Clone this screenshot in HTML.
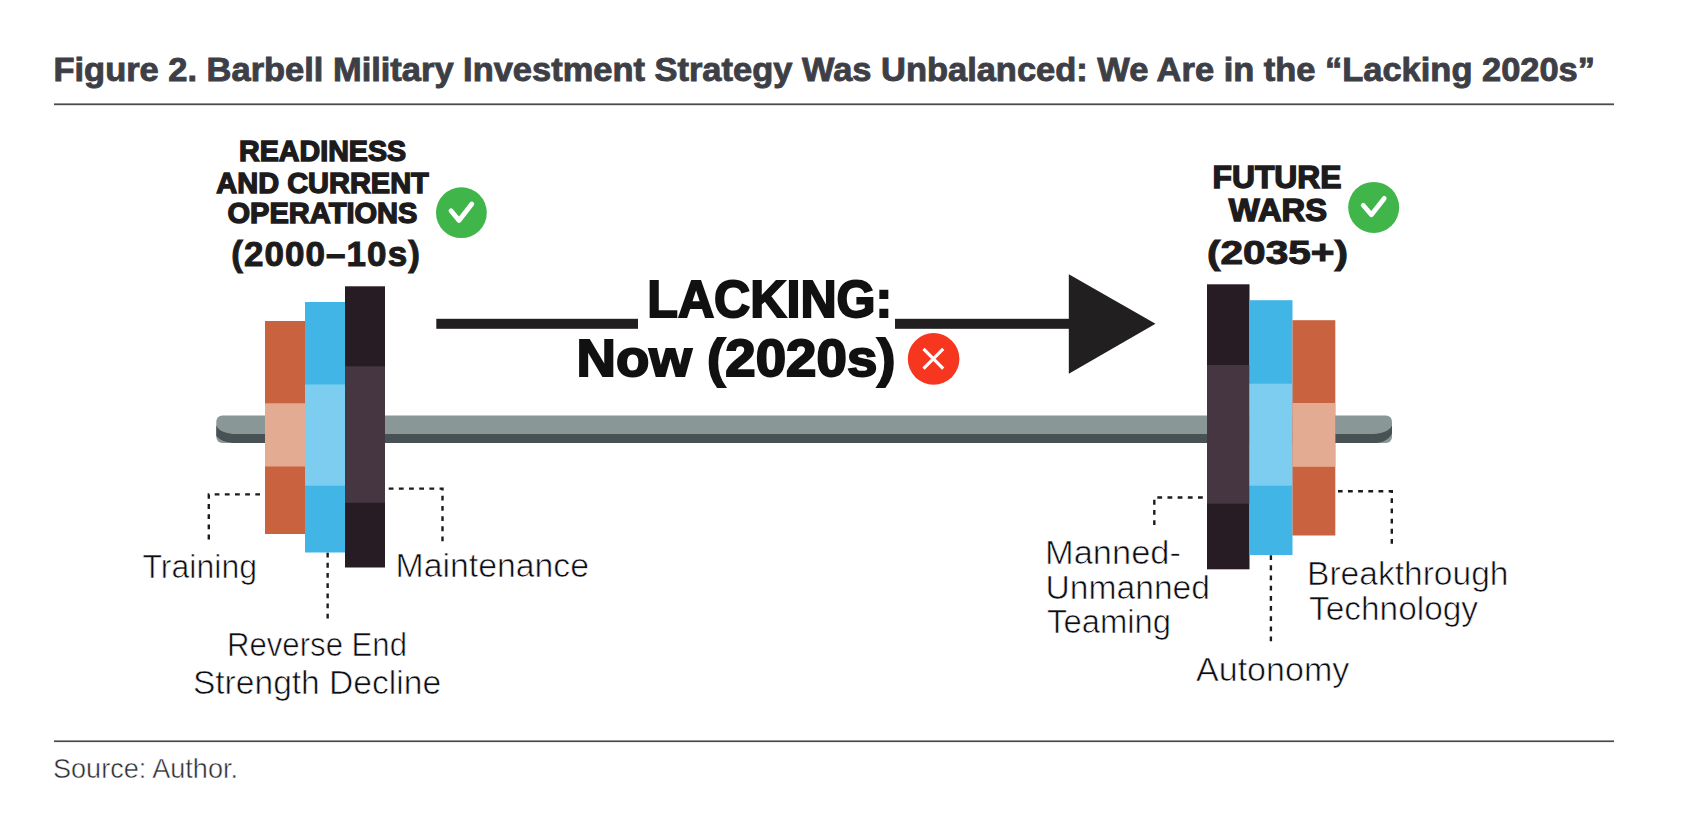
<!DOCTYPE html>
<html lang="en">
<head>
<meta charset="utf-8">
<title>Figure 2. Barbell Military Investment Strategy Was Unbalanced</title>
<style>
  html, body { margin: 0; padding: 0; background: #ffffff; }
  body { width: 1688px; height: 826px; overflow: hidden; }
  svg { display: block; }
  text { font-family: "Liberation Sans", sans-serif; }
  .title { font-weight: bold; font-size: 33px; fill: #3e3f46; stroke: #3e3f46; stroke-width: 0.9px; }
  .head  { font-weight: bold; font-size: 29px; fill: #1d1b1c; stroke: #1d1b1c; stroke-width: 1.4px; }
  .yr    { font-weight: bold; font-size: 35px; fill: #1d1b1c; stroke: #1d1b1c; stroke-width: 1px; }
  .big   { font-weight: bold; font-size: 52px; fill: #111111; stroke: #111111; stroke-width: 2px; }
  .lab   { font-size: 33px; fill: #0c0c12; stroke: #ffffff; stroke-width: 0.65px; }
  .src   { font-size: 28px; fill: #2c2d32; stroke: #ffffff; stroke-width: 0.5px; }
  .dash  { fill: none; stroke: #1d1b1c; stroke-width: 2.4; stroke-dasharray: 4.8 5.37; }
</style>
</head>
<body>
<svg width="1688" height="826" viewBox="0 0 1688 826">
  <rect x="0" y="0" width="1688" height="826" fill="#ffffff"/>

  <!-- title -->
  <text class="title" x="53.5" y="81.4" textLength="1541.5" lengthAdjust="spacingAndGlyphs">Figure 2. Barbell Military Investment Strategy Was Unbalanced: We Are in the “Lacking 2020s”</text>
  <rect x="54" y="103.4" width="1560" height="1.8" fill="#4a4b4f"/>

  <!-- bar -->
  <g id="bar">
    <rect x="216.3" y="415.4" width="1175.7" height="27.7" rx="6" ry="6" fill="#899797"/>
    <path d="M216.3 425.2 C218 431 226 434 238 434 L1370 434 C1382 434 1390 431 1392 425.2 L1392 433.5 C1389 439.5 1383 443.1 1373 443.1 L236 443.1 C227 443.1 220 440.5 216.3 436 Z" fill="#485254"/>
  </g>

  <!-- left plates -->
  <g id="left-plates">
    <rect x="265" y="321" width="40" height="213" fill="#c9623f"/>
    <rect x="265" y="403.3" width="40" height="63.2" fill="#e4ab93"/>
    <rect x="305" y="302" width="40" height="250.5" fill="#41b6e6"/>
    <rect x="305" y="384.5" width="40" height="101.2" fill="#7dcdf0"/>
    <rect x="345" y="286.3" width="40" height="281.2" fill="#271b24"/>
    <rect x="345" y="366.3" width="40" height="136.5" fill="#453641"/>
  </g>

  <!-- right plates -->
  <g id="right-plates">
    <rect x="1207" y="284.3" width="42.5" height="285" fill="#271b24"/>
    <rect x="1207" y="365" width="42.5" height="138.7" fill="#453641"/>
    <rect x="1249.5" y="300.2" width="43" height="254.8" fill="#41b6e6"/>
    <rect x="1249.5" y="383.7" width="43" height="102" fill="#7dcdf0"/>
    <rect x="1292.5" y="320.2" width="42.8" height="215.3" fill="#c9623f"/>
    <rect x="1292.5" y="403" width="42.8" height="63.8" fill="#e4ab93"/>
  </g>

  <!-- arrow -->
  <g id="arrow" fill="#211f20">
    <rect x="436.3" y="318.8" width="201.7" height="10"/>
    <rect x="895" y="318.8" width="176" height="10"/>
    <polygon points="1068.8,274.2 1155.5,323.8 1068.8,373.8"/>
  </g>

  <!-- dotted leaders -->
  <g id="leaders">
    <path class="dash" d="M208.8 539.4 V494.4 H260"/>
    <path class="dash" d="M442.5 541.3 V488.6 H387.5"/>
    <path class="dash" d="M327.65 552.7 V618.6"/>
    <path class="dash" d="M1154.3 525 V497.5 H1206"/>
    <path class="dash" d="M1391.8 543.8 V491.3 H1338"/>
    <path class="dash" d="M1270.9 555.2 V642"/>
  </g>

  <!-- left heading -->
  <text class="head" x="239" y="161.3" textLength="167.2" lengthAdjust="spacingAndGlyphs">READINESS</text>
  <text class="head" x="216.3" y="192.5" textLength="212.5" lengthAdjust="spacingAndGlyphs">AND CURRENT</text>
  <text class="head" x="227.5" y="223" textLength="190" lengthAdjust="spacingAndGlyphs">OPERATIONS</text>
  <text class="yr" x="231.3" y="265.8" textLength="188.5" lengthAdjust="spacing">(2000–10s)</text>
  <circle cx="461.4" cy="212.7" r="25.4" fill="#40b54a"/>
  <path d="M451 210.8 L459 220.4 L471.8 204" fill="none" stroke="#ffffff" stroke-width="4.8" stroke-linecap="round" stroke-linejoin="round"/>

  <!-- right heading -->
  <text class="head" style="font-size:31px" x="1212.5" y="188" textLength="129" lengthAdjust="spacingAndGlyphs">FUTURE</text>
  <text class="head" style="font-size:31px" x="1228.8" y="220.5" textLength="98.3" lengthAdjust="spacingAndGlyphs">WARS</text>
  <text class="yr" style="font-size:33px" x="1207" y="264" textLength="141" lengthAdjust="spacingAndGlyphs">(2035+)</text>
  <circle cx="1373.7" cy="207.4" r="25.5" fill="#40b54a"/>
  <path d="M1363.2 205.3 L1371.4 214.8 L1384.2 198.4" fill="none" stroke="#ffffff" stroke-width="4.8" stroke-linecap="round" stroke-linejoin="round"/>

  <!-- centre text -->
  <text class="big" x="647.3" y="316.8" textLength="245" lengthAdjust="spacingAndGlyphs">LACKING:</text>
  <text class="big" x="576.5" y="375.6" textLength="319" lengthAdjust="spacingAndGlyphs">Now (2020s)</text>
  <circle cx="933.6" cy="358.9" r="25.8" fill="#f6361e"/>
  <path d="M923.5 348.9 L943.2 368.6 M943.2 348.9 L923.5 368.6" fill="none" stroke="#ffffff" stroke-width="3.2"/>

  <!-- labels -->
  <text class="lab" x="142.5" y="577.5" textLength="114.5" lengthAdjust="spacingAndGlyphs">Training</text>
  <text class="lab" x="395.5" y="577" textLength="193.5" lengthAdjust="spacingAndGlyphs">Maintenance</text>
  <text class="lab" x="227" y="656.3" textLength="180" lengthAdjust="spacingAndGlyphs">Reverse End</text>
  <text class="lab" x="192.9" y="693.8" textLength="248.2" lengthAdjust="spacingAndGlyphs">Strength Decline</text>

  <text class="lab" x="1045" y="564.3" textLength="136" lengthAdjust="spacingAndGlyphs">Manned-</text>
  <text class="lab" x="1045.5" y="598.8" textLength="164.5" lengthAdjust="spacingAndGlyphs">Unmanned</text>
  <text class="lab" x="1047" y="632.5" textLength="124" lengthAdjust="spacingAndGlyphs">Teaming</text>
  <text class="lab" x="1307" y="585" textLength="201.5" lengthAdjust="spacingAndGlyphs">Breakthrough</text>
  <text class="lab" x="1309" y="620" textLength="169" lengthAdjust="spacingAndGlyphs">Technology</text>
  <text class="lab" x="1196" y="681.3" textLength="153.3" lengthAdjust="spacingAndGlyphs">Autonomy</text>

  <!-- footer -->
  <rect x="54" y="740.4" width="1560" height="1.7" fill="#4a4b4f"/>
  <text class="src" x="53" y="778" textLength="185" lengthAdjust="spacingAndGlyphs">Source: Author.</text>
</svg>
</body>
</html>
